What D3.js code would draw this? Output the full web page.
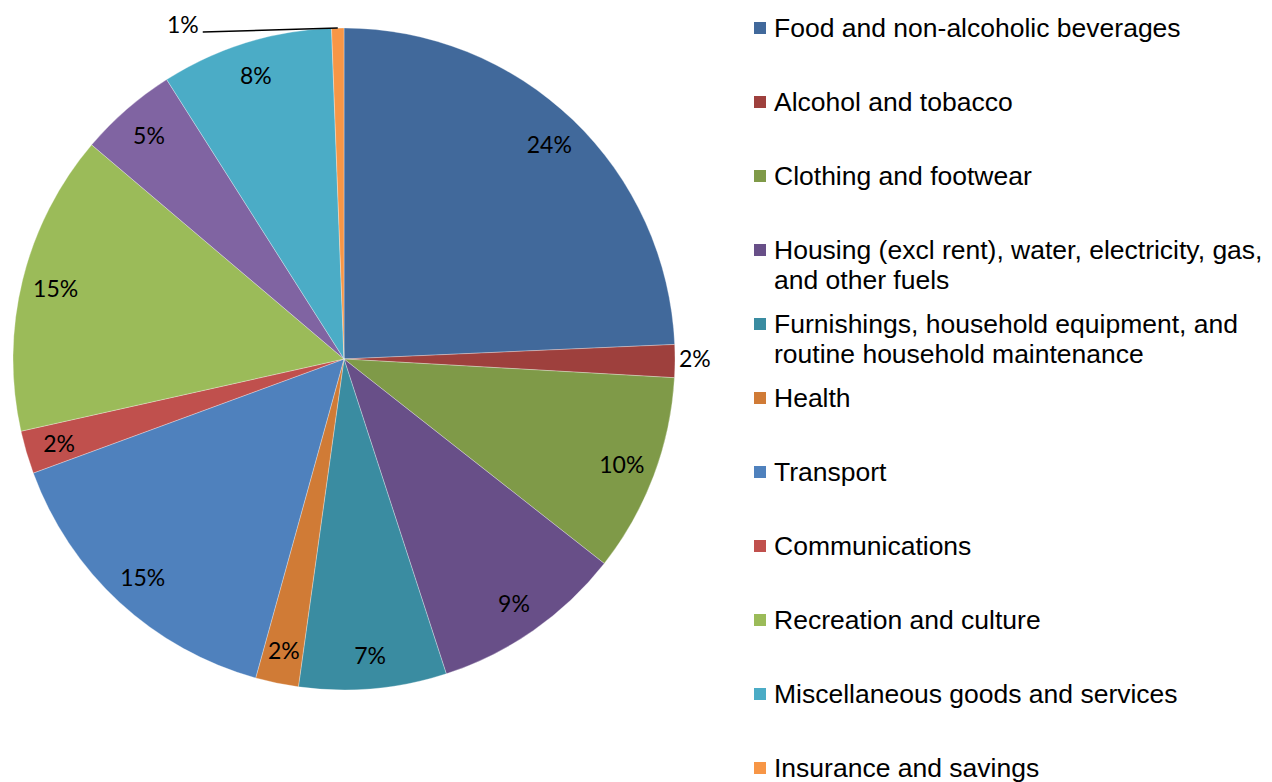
<!DOCTYPE html>
<html>
<head>
<meta charset="utf-8">
<script src="https://cdn.jsdelivr.net/npm/d3@7"></script>
<style>
  html, body { margin: 0; padding: 0; background: #ffffff; }
  svg { display: block; }
</style>
</head>
<body>
<svg id="chart" width="1272" height="782"></svg>
<script>
// ---- Data ----
const categories = [
  "Food and non-alcoholic beverages",
  "Alcohol and tobacco",
  "Clothing and footwear",
  "Housing (excl rent), water, electricity, gas, and other fuels",
  "Furnishings, household equipment, and routine household maintenance",
  "Health",
  "Transport",
  "Communications",
  "Recreation and culture",
  "Education",
  "Miscellaneous goods and services",
  "Insurance and savings"
];
const values = [24.3, 1.6, 9.7, 9.4, 7.2, 2.1, 15.1, 2.1, 14.7, 4.8, 8.4, 0.6];
const colors = ["#41699b", "#9e403d", "#7f9a48", "#684f88", "#3a8ca1", "#d07b36",
                "#4f81bd", "#c0504d", "#9bbb59", "#8064a2", "#4bacc6", "#f79646"];
// legend rows (the purple slice has no legend entry in the reference)
const legendItems = [
  { idx: 0,  lines: ["Food and non-alcoholic beverages"] },
  { idx: 1,  lines: ["Alcohol and tobacco"] },
  { idx: 2,  lines: ["Clothing and footwear"] },
  { idx: 3,  lines: ["Housing (excl rent), water, electricity, gas,", "and other fuels"] },
  { idx: 4,  lines: ["Furnishings, household equipment, and", "routine household maintenance"] },
  { idx: 5,  lines: ["Health"] },
  { idx: 6,  lines: ["Transport"] },
  { idx: 7,  lines: ["Communications"] },
  { idx: 8,  lines: ["Recreation and culture"] },
  { idx: 10, lines: ["Miscellaneous goods and services"] },
  { idx: 11, lines: ["Insurance and savings"] }
];
// label placement mode per slice: "in" inside, "out" just outside, "leader" outside with leader line
const labelMode = ["in", "out", "in", "in", "in", "in", "in", "in", "in", "in", "in", "leader"];

// ---- Layout ----
const cx = 344, cy = 359, R = 331;
const labelR = R - 34;
const svg = d3.select("#chart");
const g = svg.append("g").attr("transform", `translate(${cx},${cy})`);

const pie = d3.pie().sort(null).value(d => d);
const arcs = pie(values);
const arc = d3.arc().innerRadius(0).outerRadius(R);

g.selectAll("path.slice")
  .data(arcs)
  .enter().append("path")
  .attr("class", "slice")
  .attr("d", arc)
  .attr("fill", (d, i) => colors[i])
  .attr("stroke", "#ffffff")
  .attr("stroke-width", 0.6)
  .attr("stroke-opacity", 0.5);

const total = d3.sum(values);
const fmt = v => Math.round(v / total * 100) + "%";
const polar = (r, a) => [r * Math.sin(a), -r * Math.cos(a)];

arcs.forEach((d, i) => {
  const mid = (d.startAngle + d.endAngle) / 2;
  let pos, anchor = "middle";
  if (labelMode[i] === "in") {
    pos = polar(labelR, mid);
  } else if (labelMode[i] === "out") {
    pos = polar(R + 4, mid);
    pos[1] -= 3;
    anchor = "start";
  } else {
    const edge = polar(R, mid);
    const lineEnd = [edge[0] - 135, edge[1] + 4];
    g.append("path")
      .attr("d", d3.line()([edge, lineEnd]))
      .attr("stroke", "#000")
      .attr("stroke-width", 1.6)
      .attr("fill", "none");
    pos = [lineEnd[0] - 4, lineEnd[1] - 8];
    anchor = "end";
  }
  g.append("text")
    .attr("x", pos[0])
    .attr("y", pos[1])
    .attr("text-anchor", anchor)
    .attr("dominant-baseline", "central")
    .attr("font-family", "Lato, 'Open Sans', sans-serif")
    .attr("font-size", 23)
    .attr("fill", "#000")
    .text(fmt(values[i]));
});

// ---- Legend ----
const legend = svg.append("g").attr("transform", "translate(754,0)");
const rowY = d3.scaleLinear().domain([0, legendItems.length - 1]).range([28, 768]);
legendItems.forEach((item, k) => {
  const y0 = rowY(k);
  legend.append("rect")
    .attr("x", 0).attr("y", y0 - 6)
    .attr("width", 12).attr("height", 12)
    .attr("fill", colors[item.idx]);
  item.lines.forEach((ln, j) => {
    legend.append("text")
      .attr("x", 20)
      .attr("y", y0 + j * 30)
      .attr("dominant-baseline", "central")
      .attr("font-family", "'Liberation Sans', Arial, sans-serif")
      .attr("font-size", 26.5)
      .attr("fill", "#000")
      .text(ln);
  });
});
</script>
</body>
</html>
